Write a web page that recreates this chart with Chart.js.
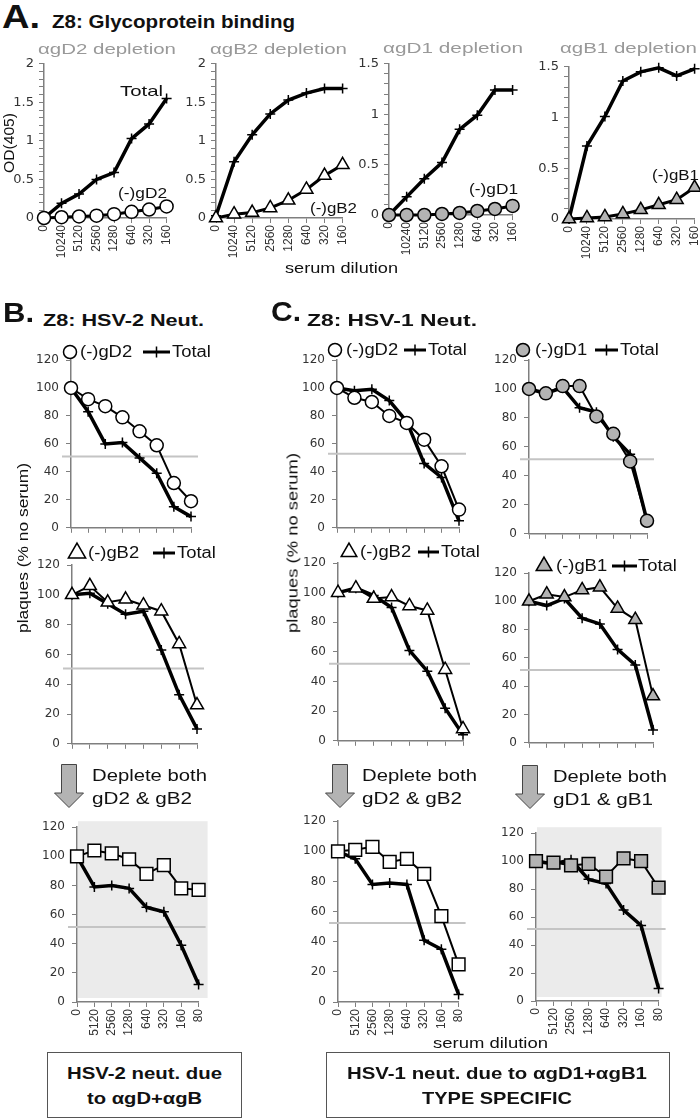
<!DOCTYPE html>
<html>
<head>
<meta charset="utf-8">
<script src="https://cdn.jsdelivr.net/npm/chart.js@4.4.1/dist/chart.umd.min.js"></script>
<style>
  html, body { margin: 0; padding: 0; background: #fff; overflow: hidden; width: 700px; height: 1118px; }
  #fig { position: relative; width: 700px; height: 1118px; font-family: "Liberation Sans", Arial, sans-serif; color: #111; }
  .t { position: absolute; white-space: nowrap; line-height: 1; transform-origin: 0 50%; }
  .rot { position: absolute; white-space: nowrap; line-height: 1; transform-origin: 50% 50%; }
  .box { position: absolute; border: 1.5px solid #555; box-sizing: border-box; }
</style>
</head>
<body>
<div id="fig"></div>
<script>
// serum dilutions (categories)
const bindDilutions = ['0', '10240', '5120', '2560', '1280', '640', '320', '160'];
const neutDilutions = ['0', '5120', '2560', '1280', '640', '320', '160', '80'];

// A. glycoprotein binding, OD(405)
const gD2DepTotal = [0, 0.19, 0.31, 0.5, 0.59, 1.03, 1.22, 1.55];
const gD2DepLeft = [0, 0.01, 0.02, 0.03, 0.05, 0.08, 0.11, 0.15];
const gB2DepTotal = [0.03, 0.73, 1.08, 1.35, 1.53, 1.62, 1.68, 1.68];
const gB2DepLeft = [0, 0.05, 0.07, 0.13, 0.23, 0.37, 0.55, 0.69];
const gD1DepTotal = [0, 0.18, 0.36, 0.52, 0.85, 0.99, 1.24, 1.24];
const gD1DepLeft = [0, 0, 0, 0.01, 0.02, 0.04, 0.06, 0.09];
const gB1DepTotal = [0, 0.72, 1.01, 1.36, 1.45, 1.49, 1.41, 1.48];
const gB1DepLeft = [0, 0.01, 0.02, 0.05, 0.09, 0.14, 0.19, 0.31];

// B. HSV-2 neutralisation, plaques (% no serum)
const hsv2MinusGD2 = [100, 92, 87, 79, 69, 59, 32, 19];
const hsv2TotalA = [100, 83, 60, 61, 50, 39, 15, 8];
const hsv2MinusGB2 = [100, 106, 95, 97, 93, 89, 67, 26];
const hsv2TotalB = [100, 101, 94, 87, 89, 63, 33, 10];
const hsv2MinusBoth = [100, 104, 102, 98, 88, 94, 78, 77];
const hsv2TotalC = [100, 79, 80, 78, 65, 62, 39, 12];

// C. HSV-1 neutralisation, plaques (% no serum)
const hsv1MinusGD2 = [100, 93, 90, 80, 75, 63, 44, 13];
const hsv1TotalA = [100, 98, 99, 91, 76, 46, 36, 5];
const hsv1MinusGB2 = [100, 103, 96, 97, 91, 88, 48, 8];
const hsv1TotalB = [100, 103, 98, 90, 61, 47, 22, 4];
const hsv1MinusBoth2 = [100, 101, 103, 93, 95, 85, 57, 25];
const hsv1TotalC = [100, 95, 78, 79, 78, 41, 35, 5];
const hsv1MinusGD1 = [100, 97, 102, 102, 81, 69, 50, 9];
const hsv1TotalD = [100, 97, 101, 87, 84, 67, 55, 9];
const hsv1MinusGB1 = [100, 105, 103, 108, 110, 95, 87, 33];
const hsv1TotalE = [100, 97, 102, 88, 84, 66, 55, 9];
const hsv1MinusBoth1 = [100, 99, 97, 98, 89, 102, 100, 81];
const hsv1TotalF = [100, 98, 101, 87, 84, 65, 54, 9];

// 50% plaque reduction level drawn in each neutralisation panel
const halfLevels = [51, 50.5, 51.5, 53, 52, 52.5, 51.5, 51.5, 51.5];

const fig = document.getElementById('fig');
const GREY = '#7f7f7f';
const PALE = '#b3b3b3';

function txt(s, left, cy, size, width, o) {
    o = o || {};
    const d = document.createElement('div');
    d.className = 't';
    d.textContent = s;
    d.style.left = left + 'px';
    d.style.top = (cy - 0.49 * size) + 'px';
    d.style.fontSize = size + 'px';
    if (o.bold) d.style.fontWeight = 'bold';
    if (o.color) d.style.color = o.color;
    fig.appendChild(d);
    if (width) {
        const nat = d.getBoundingClientRect().width;
        d.style.transform = 'scaleX(' + (width / nat).toFixed(3) + ')';
    }
}

function vtxt(s, cx, cy, size, len) {
    const d = document.createElement('div');
    d.className = 'rot';
    d.textContent = s;
    d.style.left = cx + 'px';
    d.style.top = cy + 'px';
    d.style.fontSize = size + 'px';
    fig.appendChild(d);
    const nat = d.getBoundingClientRect().width;
    d.style.transform = 'translate(-50%,-50%) rotate(-90deg) scaleX(' + (len / nat).toFixed(3) + ')';
}

function arrow(left, top) {
    const ns = 'http://www.w3.org/2000/svg';
    const svg = document.createElementNS(ns, 'svg');
    svg.setAttribute('width', 32);
    svg.setAttribute('height', 46);
    svg.style.cssText = 'position:absolute;left:' + left + 'px;top:' + top + 'px';
    const pg = document.createElementNS(ns, 'polygon');
    pg.setAttribute('points', '8.5,0.5 23.5,0.5 23.5,29 30.5,29 16,43.5 1.5,29 8.5,29');
    pg.setAttribute('fill', PALE);
    pg.setAttribute('stroke', '#444');
    pg.setAttribute('stroke-width', 1);
    svg.appendChild(pg);
    fig.appendChild(svg);
}

function box(left, top, w, h) {
    const d = document.createElement('div');
    d.className = 'box';
    d.style.cssText = 'left:' + left + 'px;top:' + top + 'px;width:' + w + 'px;height:' + h + 'px';
    fig.appendChild(d);
}

// series builders
function depleted(label, data, style, fill, r, bw) {
    return {
        label: label, data: data, borderColor: '#000', borderWidth: bw, tension: 0, clip: false,
        pointStyle: style, pointRadius: r, pointBackgroundColor: fill,
        pointBorderColor: '#000', pointBorderWidth: 1.5
    };
}
function total(data, bw) {
    return {
        label: 'Total', data: data, borderColor: '#000', borderWidth: bw, tension: 0, clip: false,
        pointStyle: 'cross', pointRadius: 5, pointBorderColor: '#000', pointBorderWidth: 1.5
    };
}

// shading, 50% line and little key per panel
function extras(p) {
    return {
        id: 'extras',
        beforeDraw(chart) {
            if (!p.shade) return;
            const a = chart.chartArea, y = chart.scales.y, ctx = chart.ctx;
            const top = y.getPixelForValue(y.max) - 6;
            const bot = y.getPixelForValue(0) - 4;
            ctx.save();
            ctx.fillStyle = '#ebebeb';
            ctx.fillRect(a.left + 1, top, a.right - a.left + p.shade, bot - top);
            ctx.restore();
        },
        beforeDatasetsDraw(chart) {
            if (p.cut == null) return;
            const a = chart.chartArea, ctx = chart.ctx;
            const y = chart.scales.y.getPixelForValue(p.cut);
            ctx.save();
            ctx.strokeStyle = '#c4c4c4';
            ctx.lineWidth = 2;
            ctx.beginPath();
            ctx.moveTo(a.left - 9, y);
            ctx.lineTo(a.right + 7, y);
            ctx.stroke();
            ctx.restore();
        },
        afterDraw(chart) {
            if (!p.key) return;
            const a = chart.chartArea, ctx = chart.ctx, k = p.key;
            const y = a.top + k.dy;
            const ds0 = chart.data.datasets[0], ds1 = chart.data.datasets[1];
            ctx.save();
            // depleted series marker
            ctx.fillStyle = ds0.pointBackgroundColor;
            ctx.strokeStyle = '#000';
            ctx.lineWidth = 1.5;
            Chart.helpers.drawPoint(ctx, { pointStyle: ds0.pointStyle, radius: k.r, borderWidth: 1.5, rotation: 0 }, a.left + k.m, y);
            // total series sample
            ctx.lineWidth = 3;
            ctx.beginPath();
            ctx.moveTo(a.left + k.l0, y);
            ctx.lineTo(a.left + k.l1, y);
            ctx.stroke();
            ctx.lineWidth = 1.5;
            Chart.helpers.drawPoint(ctx, { pointStyle: 'cross', radius: 5.5, borderWidth: 1.5, rotation: 0 }, a.left + (k.l0 + k.l1) / 2, y);
            // texts
            ctx.fillStyle = '#111';
            ctx.font = '16px "Liberation Sans"';
            ctx.textBaseline = 'middle';
            [[ds0.label, k.t0], [ds1.label, k.t1]].forEach(function (it) {
                ctx.save();
                ctx.translate(a.left + it[1], y + 1);
                ctx.scale(1.15, 1);
                ctx.fillText(it[0], 0, 0);
                ctx.restore();
            });
            ctx.restore();
        }
    };
}

function plot(p) {
    const padR = p.padR || 16;
    const w = p.x1 - p.x0 + p.yW + padR;
    const h = p.yBot - p.yTop + p.padT + p.xH;
    const cv = document.createElement('canvas');
    cv.width = w;
    cv.height = h;
    cv.style.cssText = 'position:absolute;left:' + (p.x0 - p.yW) + 'px;top:' + (p.yTop - p.padT) + 'px;width:' + w + 'px;height:' + h + 'px';
    fig.appendChild(cv);
    return new Chart(cv.getContext('2d'), {
        type: 'line',
        data: { labels: p.labels, datasets: p.datasets },
        options: {
            responsive: false,
            animation: false,
            devicePixelRatio: 1,
            events: [],
            layout: { padding: { top: p.padT, right: padR, left: 0, bottom: 0 } },
            plugins: { legend: { display: false }, tooltip: { enabled: false } },
            scales: {
                x: {
                    offset: false,
                    border: { color: GREY, width: 1.5 },
                    grid: { drawOnChartArea: false, color: GREY, tickLength: 5, offset: false },
                    ticks: {
                        autoSkip: false, minRotation: 90, maxRotation: 90, padding: 2,
                        color: '#333', font: { family: 'Liberation Sans', size: 12 },
                        callback: p.showX ? function (v, i) { return p.labels[i]; } : function () { return ''; }
                    },
                    afterFit: function (s) { s.height = p.xH; }
                },
                y: {
                    min: 0,
                    max: p.yMax,
                    border: { color: GREY, width: 1.5 },
                    grid: { drawOnChartArea: false, color: GREY, tickLength: 5 },
                    ticks: {
                        stepSize: p.step, autoSkip: false, padding: p.yPad,
                        color: '#333', font: { family: 'DejaVu Sans', size: p.yFont },
                        callback: p.yLabel
                    },
                    afterFit: function (s) { s.width = p.yW; }
                }
            }
        },
        plugins: [extras(p)]
    });
}

// y labels every 0.5 with minor ticks every 0.1
const odLabel = function (v) {
    return Math.abs(v * 2 - Math.round(v * 2)) < 1e-6 ? String(Math.round(v * 10) / 10) : '';
};
const pctLabel = function (v) { return String(v); };

function bindPlot(x0, x1, yTop, yBot, yMax, dep, tot) {
    return plot({
        x0: x0, x1: x1, yTop: yTop, yBot: yBot, yMax: yMax, step: 0.1, yLabel: odLabel,
        yW: 32, xH: 48, padT: 10, yFont: 13, yPad: 5, showX: true,
        labels: bindDilutions, datasets: [dep, tot]
    });
}

function neutPlot(o) {
    return plot(Object.assign({
        yMax: 120, step: 20, yLabel: pctLabel, yW: 38, yFont: 12, yPad: 7,
        labels: neutDilutions
    }, o, {
        xH: o.showX ? 42 : 10,
        padT: o.key ? 24 : 10,
        padR: o.key ? 42 : 16
    }));
}

// ---------- A ----------
bindPlot(44, 167, 61, 218, 2, depleted('(-)gD2', gD2DepLeft, 'circle', '#fff', 6.5, 3), total(gD2DepTotal, 3.5));
bindPlot(216, 343, 61, 218, 2, depleted('(-)gB2', gB2DepLeft, 'triangle', '#fff', 7.5, 3), total(gB2DepTotal, 3.5));
bindPlot(389, 513, 61, 215, 1.5, depleted('(-)gD1', gD1DepLeft, 'circle', PALE, 6.5, 3), total(gD1DepTotal, 3.5));
bindPlot(569, 695, 64, 219, 1.5, depleted('(-)gB1', gB1DepLeft, 'triangle', PALE, 7.5, 3), total(gB1DepTotal, 3.5));

// ---------- B ----------
neutPlot({ x0: 71, x1: 191, yTop: 360, yBot: 532, cut: halfLevels[0],
    key: { dy: -8, m: -1, r: 6.5, t0: 9, l0: 72, l1: 99, t1: 101 },
    datasets: [depleted('(-)gD2', hsv2MinusGD2, 'circle', '#fff', 6.5, 2), total(hsv2TotalA, 3.5)] });
neutPlot({ x0: 72, x1: 197, yTop: 565, yBot: 748, cut: halfLevels[1],
    key: { dy: -12, m: 5, r: 10, t0: 16, l0: 81, l1: 103, t1: 105 },
    datasets: [depleted('(-)gB2', hsv2MinusGB2, 'triangle', '#fff', 7.5, 2), total(hsv2TotalB, 3.5)] });
neutPlot({ x0: 77, x1: 199, yTop: 823, yBot: 1002, cut: halfLevels[2], shade: 8, showX: true,
    datasets: [depleted('(-)gD2 & gB2', hsv2MinusBoth, 'rect', '#fff', 9, 2), total(hsv2TotalC, 3.5)] });

// ---------- C ----------
neutPlot({ x0: 337, x1: 459, yTop: 360, yBot: 532, cut: halfLevels[3],
    key: { dy: -10, m: -2, r: 6.5, t0: 9, l0: 67, l1: 89, t1: 91 },
    datasets: [depleted('(-)gD2', hsv1MinusGD2, 'circle', '#fff', 6.5, 2), total(hsv1TotalA, 3.5)] });
neutPlot({ x0: 338, x1: 463, yTop: 563, yBot: 745, cut: halfLevels[4],
    key: { dy: -11, m: 11, r: 9, t0: 22, l0: 80, l1: 101, t1: 103 },
    datasets: [depleted('(-)gB2', hsv1MinusGB2, 'triangle', '#fff', 7.5, 2), total(hsv1TotalB, 3.5)] });
neutPlot({ x0: 338, x1: 459, yTop: 817, yBot: 1002, cut: halfLevels[5], showX: true,
    datasets: [depleted('(-)gD2 & gB2', hsv1MinusBoth2, 'rect', '#fff', 9, 2), total(hsv1TotalC, 3.5)] });
neutPlot({ x0: 529, x1: 647, yTop: 360, yBot: 538, cut: halfLevels[6],
    key: { dy: -10, m: -6, r: 6.5, t0: 6, l0: 66, l1: 89, t1: 91 },
    datasets: [depleted('(-)gD1', hsv1MinusGD1, 'circle', PALE, 6.5, 2), total(hsv1TotalD, 3.5)] });
neutPlot({ x0: 529, x1: 653, yTop: 573, yBot: 747, cut: halfLevels[7],
    key: { dy: -7, m: 15, r: 9, t0: 27, l0: 83, l1: 108, t1: 109 },
    datasets: [depleted('(-)gB1', hsv1MinusGB1, 'triangle', PALE, 7.5, 2), total(hsv1TotalE, 3.5)] });
neutPlot({ x0: 536, x1: 659, yTop: 829, yBot: 1001, cut: halfLevels[8], shade: 2, showX: true,
    datasets: [depleted('(-)gD1 & gB1', hsv1MinusBoth1, 'rect', PALE, 9, 2), total(hsv1TotalF, 3.5)] });

// ---------- texts ----------
txt('A.', 2, 16, 34, 38, { bold: true });
txt('Z8: Glycoprotein binding', 52, 21, 19, 243, { bold: true });
txt('αgD2 depletion', 38, 48, 15, 138, { color: '#999' });
txt('αgB2 depletion', 210, 48, 15, 137, { color: '#999' });
txt('αgD1 depletion', 383, 47, 15, 140, { color: '#999' });
txt('αgB1 depletion', 560, 47, 15, 137, { color: '#999' });
vtxt('OD(405)', 9, 143, 14, 60);
txt('Total', 120, 90, 15, 43);
txt('(-)gD2', 118, 192, 15, 49);
txt('(-)gB2', 310, 207, 15, 47);
txt('(-)gD1', 469, 188, 15, 49);
txt('(-)gB1', 652, 174, 15, 47);
txt('serum dilution', 285, 267, 15, 113);

txt('B.', 3, 313, 28, 31, { bold: true });
txt('Z8: HSV-2 Neut.', 43, 320, 17, 161, { bold: true });
txt('C.', 271, 312, 28, 30, { bold: true });
txt('Z8: HSV-1 Neut.', 307, 320, 17, 170, { bold: true });
vtxt('plaques (% no serum)', 22, 548, 15, 170);
vtxt('plaques (% no serum)', 292, 543, 15, 180);

arrow(53, 764);
arrow(324, 764);
arrow(514, 765);
txt('Deplete both', 92, 776, 16, 115);
txt('gD2 & gB2', 92, 799, 16, 100);
txt('Deplete both', 362, 776, 16, 115);
txt('gD2 & gB2', 362, 799, 16, 100);
txt('Deplete both', 553, 777, 16, 114);
txt('gD1 & gB1', 553, 800, 16, 100);

txt('serum dilution', 433, 1042, 15, 115);

box(47, 1052, 195, 66);
box(326, 1052, 344, 66);
txt('HSV-2 neut. due', 67, 1073, 17, 155, { bold: true });
txt('to αgD+αgB', 87, 1098, 17, 115, { bold: true });
txt('HSV-1 neut. due to αgD1+αgB1', 347, 1073, 17, 300, { bold: true });
txt('TYPE SPECIFIC', 422, 1098, 17, 150, { bold: true });
</script>
</body>
</html>
